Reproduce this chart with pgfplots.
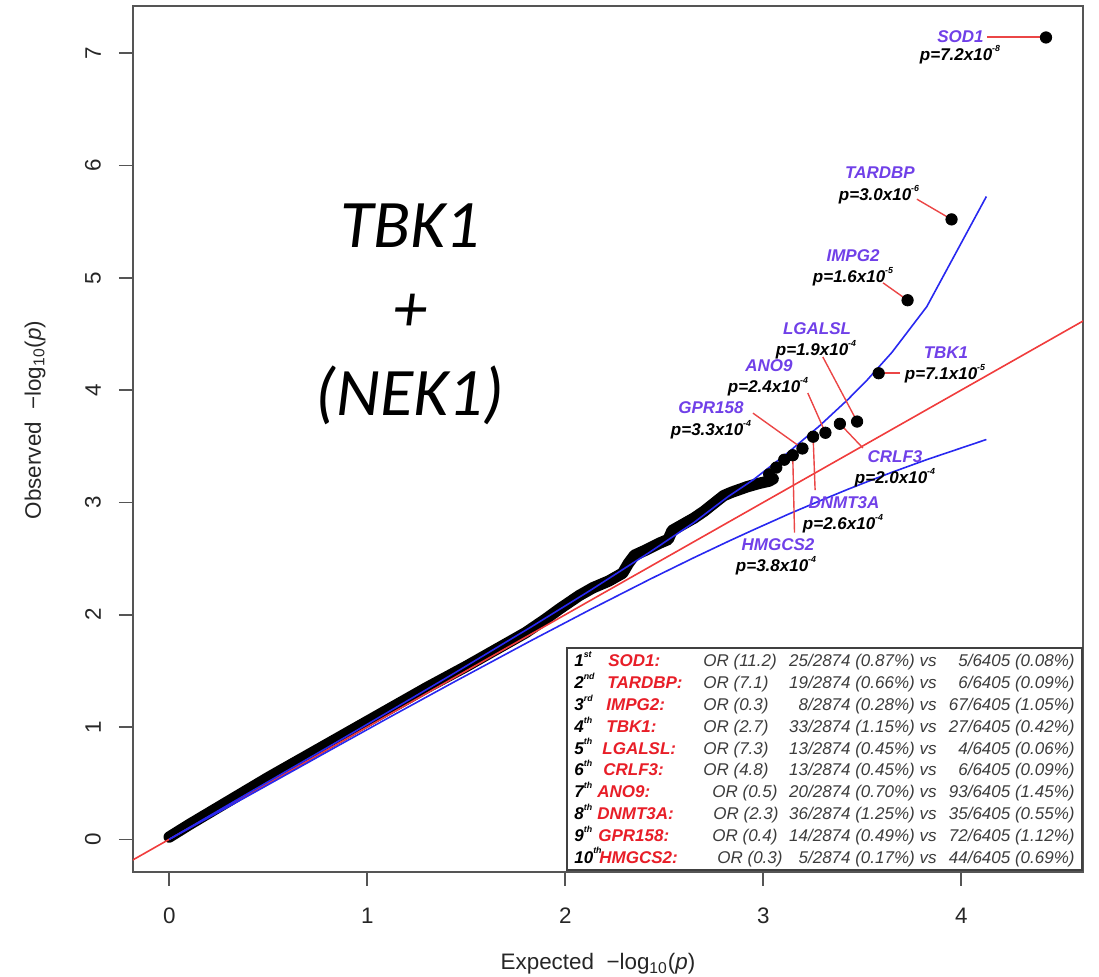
\documentclass[border=0pt]{standalone}
\usepackage{fontspec}
\setmainfont{Liberation Sans}
\newfontfamily\calibri{Carlito}
\usepackage{pgfplots}
\pgfplotsset{compat=1.18}
\definecolor{axgray}{RGB}{85,85,85}
\definecolor{lblpurple}{RGB}{112,64,232}
\definecolor{genered}{RGB}{232,30,40}
\definecolor{ortext}{RGB}{60,60,60}
\definecolor{ablue}{RGB}{40,40,240}
\definecolor{ared}{RGB}{240,60,60}
\definecolor{leadred}{RGB}{235,70,70}
\tikzset{leadline/.style={draw=leadred, line width=0.7pt}}

\newcommand{\sps}[1]{\raisebox{0.55em}{\fontsize{4.4}{5}\selectfont #1}}
\newcommand{\lblfont}{\fontsize{8.5}{10}\selectfont\bfseries\itshape}
\newcommand{\tabfont}{\fontsize{8.5}{10}\selectfont\itshape}
% \trow{baseline y}{rank}{suffix}{gene}{gene x}{OR}{OR x}{counts}{controls}
\newcommand{\trow}[9]{%
  \node[anchor=base west, inner sep=0pt, font=\tabfont\bfseries] at (574,#1) {#2\sps{#3}};
  \node[anchor=base west, inner sep=0pt, font=\tabfont\bfseries, text=genered] at (#5,#1) {#4};
  \node[anchor=base west, inner sep=0pt, font=\tabfont, text=ortext] at (#7,#1) {#6};
  \node[anchor=base east, inner sep=0pt, font=\tabfont, text=ortext] at (937,#1) {#8};
  \node[anchor=base east, inner sep=0pt, font=\tabfont, text=ortext] at (1075,#1) {#9};
}

\pgfplotstableread{
x y
0.00 0.02
0.10 0.13
0.30 0.34
0.50 0.55
0.70 0.75
0.90 0.95
1.10 1.15
1.30 1.35
1.50 1.54
1.65 1.69
1.80 1.84
1.90 1.96
1.97 2.05
2.07 2.17
2.14 2.24
2.22 2.30
2.29 2.37
2.32 2.46
2.35 2.53
2.40 2.57
2.48 2.64
2.52 2.67
2.54 2.75
2.60 2.81
2.65 2.86
2.70 2.92
2.75 2.99
2.80 3.06
2.84 3.09
2.92 3.14
2.98 3.17
3.03 3.19
3.05 3.21
}\qqband

\pgfplotstableread{
x y
4.428 7.14
3.951 5.52
3.729 4.80
3.583 4.15
3.474 3.72
3.387 3.70
3.314 3.62
3.252 3.585
3.198 3.48
3.149 3.42
3.106 3.38
3.066 3.31
3.030 3.25
}\qqtop

\pgfplotstableread{
x y
0 0
0.428 0.440
0.826 0.845
1.127 1.155
1.428 1.467
1.826 1.889
2.127 2.217
2.428 2.558
2.650 2.821
2.826 3.056
2.951 3.203
3.127 3.446
3.282 3.678
3.428 3.917
3.525 4.090
3.650 4.336
3.826 4.743
4.127 5.724
}\ciupper

\pgfplotstableread{
x y
0 0
0.428 0.416
0.826 0.807
1.127 1.101
1.428 1.391
1.826 1.768
2.127 2.046
2.428 2.316
2.650 2.508
2.826 2.655
2.951 2.756
3.127 2.895
3.282 3.011
3.428 3.117
3.525 3.184
3.650 3.268
3.826 3.381
4.127 3.560
}\cilower

\begin{document}
\begin{tikzpicture}
\begin{axis}[
  at={(0,0)}, anchor=south west,
  scale only axis, width=475pt, height=433.15pt,
  xmin=-0.183, xmax=4.615, ymin=-0.291, ymax=7.423,
  axis line style={axgray, line width=0.9pt},
  xtick={0,1,2,3,4}, ytick={0,1,2,3,4,5,6,7},
  tick style={axgray, line width=0.8pt},
  tick align=outside, major tick length=7pt,
  xtick pos=lower, ytick pos=left,
  ticklabel style={font=\fontsize{11.2}{13}\selectfont, text=black!85},
  /pgf/number format/assume math mode=true,
  xticklabel shift=7.5pt,
  yticklabel style={rotate=90, anchor=south},
  yticklabel shift=5.5pt,
]
\addplot[black, line width=5.7pt, line cap=round, line join=round] table {\qqband};
% horizontal leader lines (under the dots)
\addplot[leadred, line width=0.9pt, forget plot] coordinates {(4.13,7.143) (4.42,7.143)};
\addplot[leadred, line width=0.9pt, forget plot] coordinates {(3.59,4.153) (3.69,4.153)};
\addplot[only marks, mark=*, mark size=2.85pt, black, mark options={fill=black}] table {\qqtop};
\addplot[ared, line width=0.8pt] coordinates {(-0.4,-0.4) (4.8,4.8)};
\addplot[ablue, line width=0.8pt] table {\ciupper};
\addplot[ablue, line width=0.8pt] table {\cilower};
% leader lines
\path[leadline] (axis cs:3.776,5.70) -- (axis cs:3.951,5.52);
\path[leadline] (axis cs:3.605,4.955) -- (axis cs:3.729,4.80);
\path[leadline] (axis cs:3.301,4.295) -- (axis cs:3.474,3.72);
\path[leadline] (axis cs:3.225,3.974) -- (axis cs:3.314,3.62);
\path[leadline] (axis cs:2.948,3.795) -- (axis cs:3.198,3.48);
\path[leadline] (axis cs:3.252,3.585) -- (axis cs:3.262,3.11);
\path[leadline] (axis cs:3.149,3.42) -- (axis cs:3.158,2.73);
\path[leadline] (axis cs:3.387,3.70) -- (axis cs:3.503,3.485);
\end{axis}

\begin{scope}[x=0.5pt, y=-0.5pt, shift={(-66.5pt,436pt)}]
% axis titles
\node[font=\fontsize{11.2}{13}\selectfont, anchor=base, text=black!85] at (598,970)
  {Expected\ \ −log\textsubscript{10}(\textit{p})};
\node[font=\fontsize{11.2}{13}\selectfont, rotate=90, anchor=base, text=black!85] at (41,420)
  {Observed\ \ −log\textsubscript{10}(\textit{p})};
% big text
\node[font=\calibri\itshape\fontsize{34}{42}\selectfont, align=center] at (410,314)
  {TBK1\\+\\(NEK1)};
% gene labels
\node[font=\lblfont, text=lblpurple, anchor=east, inner sep=0pt] at (984,37) {SOD1};
\node[font=\lblfont, inner sep=1pt] at (960,55) {p=7.2x10\sps{-8}};
\node[font=\lblfont, text=lblpurple] at (880,173) {TARDBP};
\node[font=\lblfont] at (879,195) {p=3.0x10\sps{-6}};
\node[font=\lblfont, text=lblpurple] at (853,256) {IMPG2};
\node[font=\lblfont] at (853,277) {p=1.6x10\sps{-5}};
\node[font=\lblfont, text=lblpurple] at (817,329) {LGALSL};
\node[font=\lblfont] at (816,350) {p=1.9x10\sps{-4}};
\node[font=\lblfont, text=lblpurple] at (946,353) {TBK1};
\node[font=\lblfont] at (945,374) {p=7.1x10\sps{-5}};
\node[font=\lblfont, text=lblpurple] at (769,366) {ANO9};
\node[font=\lblfont] at (768,387) {p=2.4x10\sps{-4}};
\node[font=\lblfont, text=lblpurple] at (711,408) {GPR158};
\node[font=\lblfont] at (711,430) {p=3.3x10\sps{-4}};
\node[font=\lblfont, text=lblpurple] at (895,457) {CRLF3};
\node[font=\lblfont] at (895,478) {p=2.0x10\sps{-4}};
\node[font=\lblfont, text=lblpurple] at (844,503) {DNMT3A};
\node[font=\lblfont] at (843,524) {p=2.6x10\sps{-4}};
\node[font=\lblfont, text=lblpurple] at (778,545) {HMGCS2};
\node[font=\lblfont] at (776,566) {p=3.8x10\sps{-4}};
% table
\draw[fill=white, draw=black!75, line width=1pt] (567,648) rectangle (1082,870);
\trow{667.0}{1}{st}{SOD1:}{608}{OR (11.2)}{703}{25/2874 (0.87\%) vs}{5/6405 (0.08\%)}
\trow{688.8}{2}{nd}{TARDBP:}{607}{OR (7.1)}{703}{19/2874 (0.66\%) vs}{6/6405 (0.09\%)}
\trow{710.6}{3}{rd}{IMPG2:}{606}{OR (0.3)}{703}{8/2874 (0.28\%) vs}{67/6405 (1.05\%)}
\trow{732.4}{4}{th}{TBK1:}{606}{OR (2.7)}{703}{33/2874 (1.15\%) vs}{27/6405 (0.42\%)}
\trow{754.2}{5}{th}{LGALSL:}{602}{OR (7.3)}{703}{13/2874 (0.45\%) vs}{4/6405 (0.06\%)}
\trow{776.0}{6}{th}{CRLF3:}{603}{OR (4.8)}{703}{13/2874 (0.45\%) vs}{6/6405 (0.09\%)}
\trow{797.8}{7}{th}{ANO9:}{597}{OR (0.5)}{712}{20/2874 (0.70\%) vs}{93/6405 (1.45\%)}
\trow{819.6}{8}{th}{DNMT3A:}{597}{OR (2.3)}{713}{36/2874 (1.25\%) vs}{35/6405 (0.55\%)}
\trow{841.4}{9}{th}{GPR158:}{598}{OR (0.4)}{712}{14/2874 (0.49\%) vs}{72/6405 (1.12\%)}
\trow{863.2}{10}{th}{HMGCS2:}{599}{OR (0.3)}{717}{5/2874 (0.17\%) vs}{44/6405 (0.69\%)}
\end{scope}
\pgfresetboundingbox
\path[use as bounding box] (-66.5pt,-52.5pt) rectangle (483pt,436pt);
\end{tikzpicture}
\end{document}
